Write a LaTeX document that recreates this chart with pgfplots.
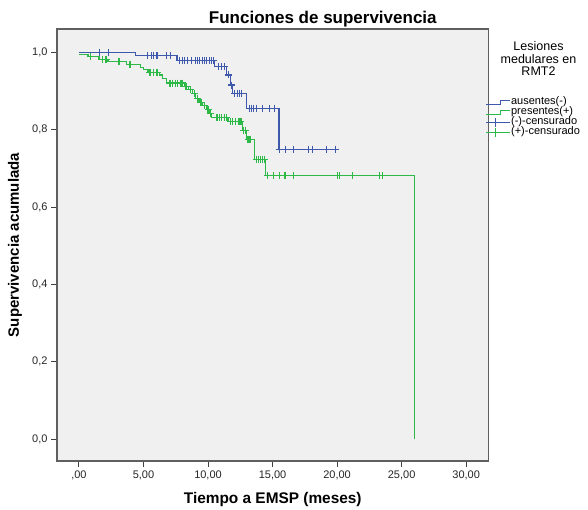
\documentclass[border=0pt]{standalone}
\usepackage{fontspec}
\setmainfont{Liberation Sans}
\usepackage{pgfplots}
\pgfplotsset{compat=1.18}
\definecolor{cblue}{RGB}{62,88,172}
\definecolor{cgreen}{RGB}{46,184,72}
\definecolor{bggray}{RGB}{240,240,240}
\definecolor{framegray}{RGB}{95,95,95}

% Kaplan-Meier step curves: x = months, s = cumulative survival
\pgfplotstableread{
x s
0 1.000
4.40 0.992
7.60 0.979
10.50 0.964
11.40 0.942
11.75 0.916
11.90 0.895
13.00 0.856
15.50 0.750
20.00 0.750
}\ausentes
\pgfplotstableread{
x s
0 0.995
0.70 0.990
1.55 0.983
2.25 0.976
3.70 0.970
4.80 0.961
5.00 0.955
5.35 0.949
6.25 0.942
6.50 0.934
6.80 0.921
8.15 0.912
8.50 0.904
8.80 0.895
9.05 0.882
9.30 0.871
9.55 0.862
9.85 0.853
10.10 0.843
10.30 0.832
11.55 0.821
12.65 0.799
12.97 0.776
13.60 0.724
14.46 0.682
26.00 0.000
}\presentes
\pgfplotstableread{
x s
1.60 1.000
2.30 1.000
5.30 0.992
5.65 0.992
5.80 0.992
6.05 0.992
6.80 0.992
7.10 0.992
7.80 0.979
8.00 0.979
8.20 0.979
8.40 0.979
8.70 0.979
9.00 0.979
9.20 0.979
9.35 0.979
9.60 0.979
9.75 0.979
9.90 0.979
10.10 0.979
10.30 0.979
10.45 0.979
10.80 0.964
11.05 0.964
11.30 0.964
11.60 0.942
11.80 0.916
12.05 0.895
12.30 0.895
12.45 0.895
12.60 0.895
13.20 0.856
13.35 0.856
13.50 0.856
13.75 0.856
14.20 0.856
14.75 0.856
15.15 0.856
15.55 0.750
16.00 0.750
16.65 0.750
17.80 0.750
18.10 0.750
19.20 0.750
19.90 0.750
}\censA
\pgfplotstableread{
x s
0.90 0.990
1.85 0.983
2.10 0.983
3.10 0.976
3.95 0.970
5.50 0.949
5.80 0.949
6.05 0.949
7.05 0.921
7.25 0.921
7.50 0.921
7.65 0.921
7.90 0.921
8.05 0.921
8.30 0.912
8.65 0.904
8.95 0.895
9.20 0.882
9.45 0.871
9.70 0.862
10.00 0.853
10.20 0.843
10.70 0.832
10.90 0.832
11.05 0.832
11.30 0.832
11.45 0.832
11.75 0.821
11.90 0.821
12.15 0.821
12.40 0.821
12.55 0.821
12.75 0.799
12.90 0.799
13.10 0.776
13.25 0.776
13.75 0.724
13.90 0.724
14.05 0.724
14.25 0.724
14.40 0.724
14.60 0.682
15.10 0.682
15.55 0.682
15.90 0.682
16.00 0.682
16.65 0.682
20.05 0.682
20.20 0.682
21.20 0.682
23.30 0.682
23.50 0.682
}\censB

\begin{document}
\begin{tikzpicture}
\useasboundingbox (0pt,0pt) rectangle (588pt,510pt);
\begin{axis}[
  at={(57pt,49pt)}, anchor=south west,
  scale only axis, width=431.5pt, height=432pt,
  xmin=-1.7, xmax=31.73, ymin=-0.057, ymax=1.061,
  axis background/.style={fill=bggray},
  axis line style={framegray, line width=1.2pt},
  xtick={0,5,10,15,20,25,30},
  xticklabels={{,00},{5,00},{10,00},{15,00},{20,00},{25,00},{30,00}},
  ytick={0,0.2,0.4,0.6,0.8,1},
  yticklabels={{0,0},{0,2},{0,4},{0,6},{0,8},{1,0}},
  tick align=outside, xtick pos=lower, ytick pos=left,
  major tick length=6pt,
  tick style={black!75, line width=0.9pt},
  ticklabel style={font=\fontsize{11}{13}\selectfont, text=black!85},
  title={Funciones de supervivencia},
  title style={font=\bfseries\fontsize{17}{20}\selectfont, at={(axis description cs:0.616,1)}, anchor=base, yshift=-1pt},
  xlabel={Tiempo a EMSP (meses)},
  x label style={font=\bfseries\fontsize{15.4}{18}\selectfont, at={(axis description cs:0.5,0)}, anchor=base, yshift=-43pt},
  ylabel={Supervivencia acumulada},
  y label style={font=\bfseries\fontsize{15}{18}\selectfont, at={(axis description cs:-0.0973,0.5)}, anchor=center},
  legend style={at={(rel axis cs:1,1)}, anchor=north west, xshift=-3pt, yshift=-68pt,
    draw=none, fill=none, inner sep=0pt, row sep=0pt,
    font=\fontsize{11}{12}\selectfont,
    nodes={text height=7pt, text depth=2.5pt, inner sep=0.3pt}},
  legend cell align=left,
  clip=false,
]
\addplot[color=cblue, line width=1.1pt, const plot, mark=none,
  legend image code/.code={\draw[color=cblue, line width=1.1pt] (0pt,-2pt) -- (14pt,-2pt) -- (14pt,2pt) -- (24pt,2pt);}]
  table[x=x, y=s] {\ausentes};
\addlegendentry{ausentes(-)}
\addplot[color=cgreen, line width=1.1pt, const plot, mark=none,
  legend image code/.code={\draw[color=cgreen, line width=1.1pt] (0pt,-2pt) -- (14pt,-2pt) -- (14pt,2pt) -- (24pt,2pt);}]
  table[x=x, y=s] {\presentes};
\addlegendentry{presentes(+)}
\addplot[color=cblue, only marks, mark=+, mark size=3.5pt, mark options={color=cblue, line width=1.2pt},
  legend image code/.code={\draw[color=cblue, line width=1.1pt] (0pt,0pt) -- (24pt,0pt); \draw[color=cblue, line width=1.1pt] (9pt,-4.5pt) -- (9pt,4.5pt);}]
  table[x=x, y=s] {\censA};
\addlegendentry{(-)-censurado}
\addplot[color=cgreen, only marks, mark=+, mark size=3.5pt, mark options={color=cgreen, line width=1.2pt},
  legend image code/.code={\draw[color=cgreen, line width=1.1pt] (0pt,0pt) -- (24pt,0pt); \draw[color=cgreen, line width=1.1pt] (9pt,-4.5pt) -- (9pt,4.5pt);}]
  table[x=x, y=s] {\censB};
\addlegendentry{(+)-censurado}
\end{axis}
\node[anchor=base, font=\fontsize{12.5}{14}\selectfont] at (538.5pt,459pt) {Lesiones};
\node[anchor=base, font=\fontsize{12.5}{14}\selectfont] at (538.5pt,446.5pt) {medulares en};
\node[anchor=base, font=\fontsize{12.5}{14}\selectfont] at (538.5pt,434pt) {RMT2};
\end{tikzpicture}
\end{document}
